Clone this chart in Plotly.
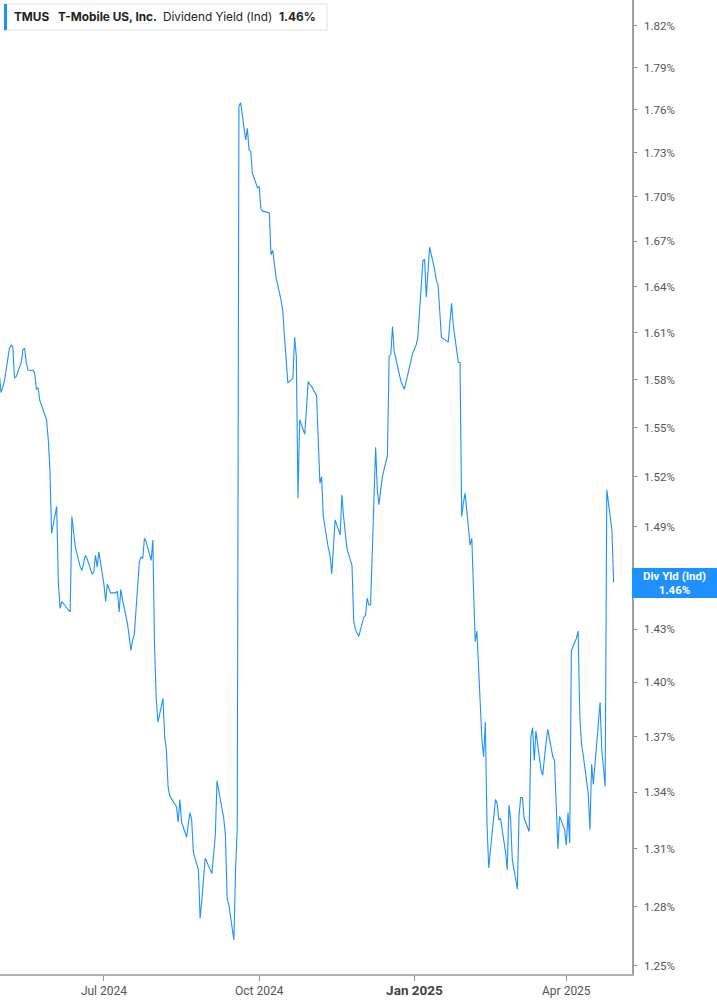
import numpy as np
import pandas as pd
import plotly.graph_objects as go

# ---------------- data ----------------
HOLIDAYS = ["2024-05-27", "2024-06-19", "2024-07-04", "2024-09-02", "2024-11-28",
            "2024-12-25", "2025-01-01", "2025-01-09", "2025-01-20", "2025-02-17",
            "2025-04-18"]
dates = pd.bdate_range("2024-04-30", "2025-04-29", freq="C", holidays=HOLIDAYS)

yld_2024_04 = [1.584]
yld_2024_05 = [1.572, 1.575, 1.579, 1.600, 1.602, 1.601, 1.581, 1.582, 1.591, 1.599, 1.600,
               1.591, 1.586, 1.586, 1.584, 1.574, 1.575, 1.567, 1.555, 1.543, 1.524, 1.486]
yld_2024_06 = [1.502, 1.457, 1.442, 1.446, 1.445, 1.441, 1.440, 1.496, 1.487, 1.478,
               1.466, 1.464, 1.473, 1.471, 1.462, 1.463, 1.473, 1.466, 1.475]
yld_2024_07 = [1.456, 1.446, 1.456, 1.451, 1.451, 1.452, 1.440, 1.453, 1.447, 1.433, 1.424,
               1.418, 1.424, 1.427, 1.469, 1.472, 1.471, 1.483, 1.481, 1.470, 1.482, 1.421]
yld_2024_08 = [1.391, 1.378, 1.391, 1.370, 1.363, 1.343, 1.338, 1.334, 1.332, 1.324, 1.336,
               1.324, 1.316, 1.323, 1.329, 1.325, 1.308, 1.299, 1.274, 1.283, 1.294, 1.305]
yld_2024_09 = [1.297, 1.307, 1.317, 1.346, 1.332, 1.326, 1.317, 1.284, 1.281, 1.263,
               1.299, 1.321, 1.763, 1.765, 1.739, 1.747, 1.732, 1.731, 1.716, 1.706]
yld_2024_10 = [1.707, 1.692, 1.690, 1.690, 1.689, 1.661, 1.664, 1.656, 1.646, 1.631, 1.624,
               1.607, 1.589, 1.578, 1.581, 1.607, 1.595, 1.507, 1.555, 1.546, 1.562, 1.579, 1.577]
yld_2024_11 = [1.576, 1.570, 1.544, 1.516, 1.520, 1.496, 1.477, 1.473, 1.462, 1.479,
               1.494, 1.485, 1.509, 1.496, 1.485, 1.477, 1.467, 1.435, 1.430, 1.426]
yld_2024_12 = [1.437, 1.438, 1.448, 1.444, 1.444, 1.538, 1.512, 1.503, 1.512, 1.520, 1.533,
               1.595, 1.596, 1.614, 1.598, 1.583, 1.579, 1.574, 1.579, 1.593, 1.597]
yld_2025_01 = [1.602, 1.607, 1.657, 1.658, 1.633, 1.666, 1.651, 1.644, 1.641, 1.625,
               1.607, 1.604, 1.616, 1.629, 1.615, 1.591, 1.591, 1.496, 1.504, 1.510]
yld_2025_02 = [1.479, 1.483, 1.453, 1.423, 1.429, 1.368, 1.359, 1.378, 1.323, 1.300,
               1.336, 1.334, 1.325, 1.326, 1.308, 1.299, 1.333, 1.325, 1.304]
yld_2025_03 = [1.289, 1.328, 1.337, 1.337, 1.326, 1.319, 1.370, 1.375, 1.357, 1.373, 1.352,
               1.349, 1.359, 1.367, 1.374, 1.359, 1.357, 1.336, 1.310, 1.327, 1.320]
yld_2025_04 = [1.312, 1.329, 1.313, 1.418, 1.425, 1.429, 1.381, 1.366, 1.360, 1.339,
               1.320, 1.355, 1.344, 1.389, 1.363, 1.352, 1.343, 1.512, 1.488, 1.457]

values = (yld_2024_04 + yld_2024_05 + yld_2024_06 + yld_2024_07 + yld_2024_08 + yld_2024_09
          + yld_2024_10 + yld_2024_11 + yld_2024_12 + yld_2025_01 + yld_2025_02
          + yld_2025_03 + yld_2025_04)
n = min(len(values), len(dates))
dates = dates[:n]
values = values[:n]

y_ticks = [1.25, 1.28, 1.31, 1.34, 1.37, 1.40, 1.43, 1.49, 1.52, 1.55, 1.58,
           1.61, 1.64, 1.67, 1.70, 1.73, 1.76, 1.79, 1.82]
x_tick_vals = ["2024-07-01", "2024-10-01", "2025-01-01", "2025-04-01"]
x_tick_text = ["Jul 2024", "Oct 2024",
               "<span style='font-size:13.5px;font-weight:bold;fill:#444'>Jan 2025</span>",
               "Apr 2025"]

ticker = "TMUS"
company = "T-Mobile US, Inc."
metric = "Dividend Yield (Ind)"
last_val = values[-1]

# ---------------- style ----------------
BLUE = "#1E90FF"
W, H = 717, 1005
ML, MR, MT, MB = 0, 85, 0, 31
PW, PH = W - ML - MR, H - MT - MB
FONT = "Inter"

fig = go.Figure()
fig.add_trace(go.Scatter(x=dates, y=values, mode="lines",
                         line=dict(color=BLUE, width=1.1), hoverinfo="skip",
                         showlegend=False))

fig.update_layout(
    width=W, height=H,
    margin=dict(l=ML, r=MR, t=MT, b=MB, pad=0),
    paper_bgcolor="white", plot_bgcolor="white",
    font=dict(family=FONT, color="#555"),
    xaxis=dict(type="date", range=["2024-04-30 10:00", "2025-05-09 22:00"],
               tickvals=x_tick_vals, ticktext=x_tick_text,
               ticks="outside", ticklen=5, tickcolor="#999", tickwidth=1,
               showline=True, linecolor="#b0b0b0", linewidth=2,
               showgrid=False, zeroline=False,
               tickfont=dict(family="Roboto", size=12, color="#555")),
    yaxis=dict(type="log", range=[np.log10(1.2460), np.log10(1.8390)],
               side="right", tickvals=y_ticks,
               ticktext=[f"{v:.2f}%" for v in y_ticks],
               ticks="outside", ticklen=3, tickcolor="#888", tickwidth=1,
               showline=True, linecolor="#a0a0a0", linewidth=1.5,
               showgrid=False, zeroline=False, ticklabelstandoff=5,
               tickfont=dict(family="Roboto", size=11.5, color="#555")),
)

def px_x(p):
    return (p - ML) / PW

def px_y(p):
    return 1 - (p - MT) / PH

# legend box
fig.add_shape(type="rect", xref="paper", yref="paper",
              x0=px_x(4), x1=px_x(327), y0=px_y(30), y1=px_y(4),
              line=dict(color="#e2e2e2", width=1), fillcolor="white", layer="above")
fig.add_shape(type="rect", xref="paper", yref="paper",
              x0=px_x(4), x1=px_x(7), y0=px_y(30), y1=px_y(4),
              line=dict(width=0), fillcolor=BLUE, layer="above")

for txt, xp, bold in [(ticker, 12, True), (company, 56, True),
                      (metric, 161, False), (f"{last_val:.2f}%", 277, True)]:
    fig.add_annotation(xref="paper", yref="paper", x=px_x(xp), y=px_y(17),
                       xanchor="left", yanchor="middle", showarrow=False,
                       text=f"<b>{txt}</b>" if bold else txt,
                       font=dict(family=FONT, size=11.8, color="#222"))

# last value label on right axis
fig.add_annotation(xref="paper", yref="y", x=1, y=np.log10(last_val),
                   xanchor="left", yanchor="middle", showarrow=False,
                   text=f"<b>Div Yld (Ind)</b><br><b>{last_val:.2f}%</b>",
                   font=dict(family="Roboto", size=11.5, color="white"),
                   bgcolor=BLUE, width=85, height=30, borderpad=0, borderwidth=0,
                   align="center")

fig.write_html("out.html", config={"displayModeBar": False},
               post_script="document.body.style.margin='0px';document.body.style.overflow='hidden';")
